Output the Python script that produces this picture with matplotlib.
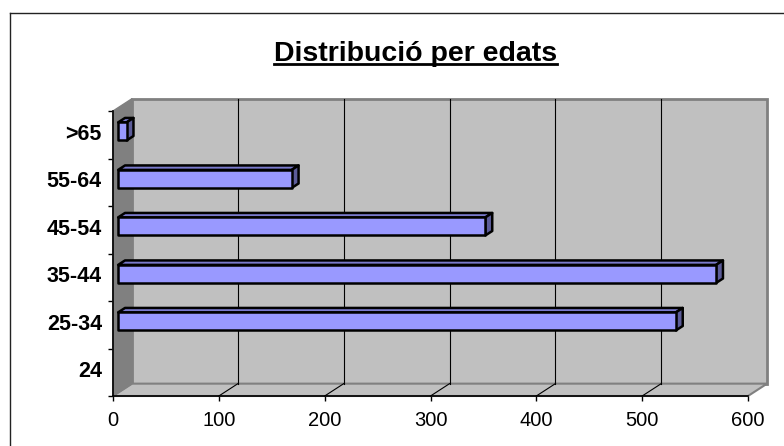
import matplotlib.pyplot as plt
import matplotlib.transforms as mtransforms
from matplotlib.patches import Polygon, Rectangle
from matplotlib.lines import Line2D

plt.rcParams['font.family'] = ['Liberation Sans', 'DejaVu Sans']

categories = ['24', '25-34', '35-44', '45-54', '55-64', '>65']
values = [0, 527, 565, 347, 164, 8]
x_ticks = [0, 100, 200, 300, 400, 500, 600]
title = 'Distribució per edats'

# 3D look: depth offset in data units
DX, DY = 18.0, 0.26
F0, F1 = 0.27, 0.63   # bar front/back depth fraction
BAR_H = 0.38

fig = plt.figure(figsize=(7.84, 4.46), dpi=100)
ax = fig.add_axes([113 / 784, 50 / 446, 635 / 784, 285 / 446])
ax.set_xlim(0, 600)
ax.set_ylim(-0.5, 5.5)
ax.set_facecolor('none')

xmax = x_ticks[-1]
ybot, ytop = -0.5, len(categories) - 0.5

# back wall
ax.add_patch(Rectangle((DX, ybot + DY), xmax, ytop - ybot, facecolor='#C0C0C0',
                       edgecolor='#808080', lw=2, clip_on=False, zorder=1))
# floor
ax.add_patch(Polygon([(0, ybot), (xmax, ybot), (xmax + DX, ybot + DY), (DX, ybot + DY)],
                     closed=True, facecolor='#C0C0C0', edgecolor='#808080', lw=1.5,
                     clip_on=False, zorder=2))
# left wall
ax.add_patch(Polygon([(0, ybot), (DX, ybot + DY), (DX, ytop + DY), (0, ytop)],
                     closed=True, facecolor='#808080', edgecolor='#808080', lw=1,
                     clip_on=False, zorder=2))

# gridlines on back wall and floor
for v in x_ticks[1:-1]:
    ax.plot([v + DX, v + DX], [ybot + DY, ytop + DY], color='black', lw=0.8,
            clip_on=False, zorder=3)
    ax.plot([v, v + DX], [ybot, ybot + DY], color='black', lw=0.8,
            clip_on=False, zorder=3)

# bars
for i, v in enumerate(values):
    if v <= 0:
        continue
    x0, y0 = F0 * DX, i + F0 * DY
    x1, y1 = F1 * DX, i + F1 * DY
    b0, t0 = y0 - BAR_H / 2, y0 + BAR_H / 2
    b1, t1 = y1 - BAR_H / 2, y1 + BAR_H / 2
    kw = dict(closed=True, edgecolor='black', lw=1.8, joinstyle='round',
              clip_on=False, zorder=5)
    ax.add_patch(Polygon([(x0, t0), (v + x0, t0), (v + x1, t1), (x1, t1)],
                         facecolor='#7A7ACC', **kw))
    ax.add_patch(Polygon([(v + x0, b0), (v + x0, t0), (v + x1, t1), (v + x1, b1)],
                         facecolor='#5C5C99', **kw))
    ax.add_patch(Polygon([(x0, b0), (v + x0, b0), (v + x0, t0), (x0, t0)],
                         facecolor='#9999FF', **kw))

# axes, ticks, labels
for s in ['top', 'right']:
    ax.spines[s].set_visible(False)
for s in ['left', 'bottom']:
    ax.spines[s].set_color('black')
    ax.spines[s].set_linewidth(1.2)
    ax.spines[s].set_zorder(4)

ax.set_xticks(x_ticks)
ax.set_xticklabels([str(t) for t in x_ticks])
ax.tick_params(axis='x', length=3.5, width=1, pad=7, labelsize=14.5)

ax.set_yticks([k - 0.5 for k in range(len(categories) + 1)])
ax.set_yticklabels([])
ax.set_yticks(range(len(categories)), minor=True)
ax.set_yticklabels(categories, minor=True, fontweight='bold', fontsize=15.5)
ax.tick_params(axis='y', which='major', length=3.5, width=1)
ax.tick_params(axis='y', which='minor', length=0, pad=8)
shift = mtransforms.ScaledTranslation(0, 3 / 100, fig.dpi_scale_trans)
for lab in ax.get_yticklabels(minor=True):
    lab.set_transform(lab.get_transform() + shift)

# title with underline
t = fig.text(0.53, 1 - 61 / 446, title, ha='center', va='baseline',
             fontsize=20.5, fontweight='bold')
fig.canvas.draw()
bb = t.get_window_extent(fig.canvas.get_renderer())
fig.add_artist(Line2D([bb.x0 / 784, bb.x1 / 784], [1 - 63.5 / 446, 1 - 63.5 / 446],
                      color='black', lw=2))

# chart frame (top and left edges visible)
fig.add_artist(Line2D([10 / 784, 1], [1 - 13 / 446, 1 - 13 / 446], color='#222222', lw=1))
fig.add_artist(Line2D([10 / 784, 10 / 784], [0, 1 - 13 / 446], color='#222222', lw=1))

fig.savefig('out.png', dpi=100)
